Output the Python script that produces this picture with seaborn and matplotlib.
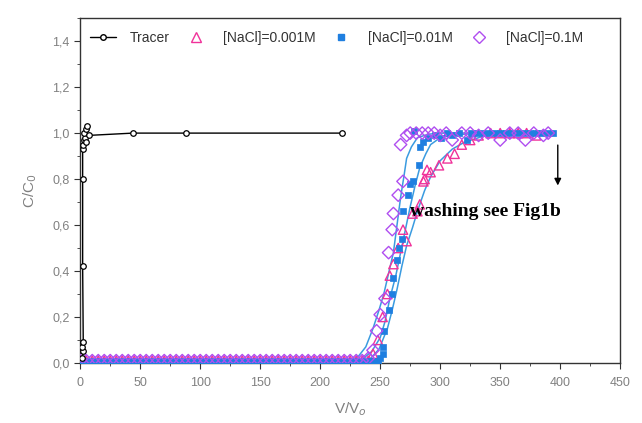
import seaborn as sns
import matplotlib.pyplot as plt
import pandas as pd
from matplotlib.lines import Line2D

# Tracer (black line with open circles)
tracer_v = [1.5, 2.5, 1.5, 2.5, 2.0, 2.0, 2.0, 2.5, 3.0, 4.0, 3.0, 5.0, 6.0, 5.0, 7.0, 44, 88, 218]
tracer_c = [0.02, 0.05, 0.07, 0.09, 0.42, 0.80, 0.93, 0.95, 0.97, 0.98, 1.00, 1.02, 1.03, 0.96, 0.99, 1.0, 1.0, 1.0]

# flat zero baseline sampled before breakthrough (shared by the three NaCl runs)
baseline_v = [0, 5, 10, 15, 20, 25, 30, 35, 40, 45, 50, 55, 60, 65, 70, 75, 80, 85, 90, 95,
              100, 105, 110, 115, 120, 125, 130, 135, 140, 145, 150, 155, 160, 165, 170, 175,
              180, 185, 190, 195, 200, 205, 210, 215, 220, 225, 230, 235]

# [NaCl]=0.001M  (pink open triangles)
low_v = [240, 244, 248, 252, 256, 258, 261, 265, 269, 272, 277, 281, 283, 286, 287, 289, 292,
         299, 306, 312, 318, 325, 332, 342, 350, 358, 365, 372, 380]
low_c = [0.01, 0.04, 0.10, 0.20, 0.30, 0.38, 0.43, 0.50, 0.58, 0.53, 0.65, 0.66, 0.69, 0.79,
         0.80, 0.84, 0.83, 0.86, 0.89, 0.91, 0.95, 0.97, 0.99, 1.0, 1.0, 1.0, 1.0, 1.0, 0.99]

# [NaCl]=0.01M  (blue filled squares)
mid_v = [240, 244, 248, 250, 252, 252, 253, 257, 260, 261, 264, 266, 268, 269, 273, 275, 277,
         282, 283, 286, 278, 290, 296, 301, 306, 310, 316, 322, 326, 330, 335, 340, 345, 350,
         355, 360, 365, 370, 375, 380, 385, 390, 394]
mid_c = [0.01, 0.01, 0.01, 0.02, 0.04, 0.07, 0.14, 0.23, 0.30, 0.37, 0.45, 0.50, 0.54, 0.66,
         0.73, 0.78, 0.79, 0.86, 0.94, 0.96, 1.01, 0.98, 0.99, 0.98, 1.0, 0.99, 1.0, 0.97, 1.0,
         1.0, 1.0, 1.0, 1.0, 1.0, 1.0, 1.0, 1.0, 1.0, 1.0, 1.0, 1.0, 1.0, 1.0]

# [NaCl]=0.1M  (purple open diamonds)
high_v = [240, 244, 247, 250, 254, 257, 260, 261, 265, 269, 267, 272, 275, 280, 285, 290, 295,
          300, 305, 310, 318, 325, 332, 340, 350, 358, 365, 371, 378, 386, 390]
high_c = [0.02, 0.055, 0.14, 0.21, 0.28, 0.48, 0.58, 0.65, 0.73, 0.79, 0.95, 0.99, 1.0, 1.0,
          1.0, 1.0, 1.0, 0.99, 1.0, 0.97, 1.0, 1.0, 0.99, 1.0, 0.97, 1.0, 1.0, 0.97, 1.0, 0.99, 1.0]

# fitted breakthrough curves
fitA_v = [200, 215, 225, 232, 238, 244, 249, 253, 257, 261, 264, 267, 270, 272, 276, 281, 290, 300, 330, 395]
fitA_c = [0, 0, 0.01, 0.03, 0.07, 0.15, 0.23, 0.30, 0.39, 0.48, 0.60, 0.72, 0.82, 0.89, 0.94, 0.98, 0.995, 1.0, 1.0, 1.0]
fitB_v = [200, 225, 236, 243, 250, 254, 258, 263, 267, 271, 275, 279, 283, 288, 292, 300, 310, 330, 395]
fitB_c = [0, 0, 0.02, 0.05, 0.11, 0.18, 0.28, 0.38, 0.48, 0.58, 0.68, 0.77, 0.85, 0.91, 0.95, 0.98, 0.99, 1.0, 1.0]
fitC_v = [200, 232, 242, 249, 256, 260, 264, 268, 272, 277, 281, 287, 292, 300, 310, 320, 335, 360, 395]
fitC_c = [0, 0, 0.02, 0.06, 0.15, 0.23, 0.32, 0.42, 0.51, 0.59, 0.66, 0.75, 0.81, 0.88, 0.93, 0.96, 0.985, 1.0, 1.0]

y_ticks = [0.0, 0.2, 0.4, 0.6, 0.8, 1.0, 1.2, 1.4]
y_ticklabels = ['0,0', '0,2', '0,4', '0,6', '0,8', '1,0', '1,2', '1,4']
x_ticks = [0, 50, 100, 150, 200, 250, 300, 350, 400, 450]

labels = ['Tracer', '[NaCl]=0.001M', '[NaCl]=0.01M', '[NaCl]=0.1M']
c_pink = '#f0329a'
c_blue = '#1f7fe0'
c_purple = '#b04ef0'
c_fit = '#3a9be0'

sns.set_style('ticks')
plt.rcParams['font.family'] = ['Liberation Sans', 'DejaVu Sans']

fig = plt.figure(figsize=(6.42, 4.23), dpi=100)
ax = fig.add_axes([0.125, 0.142, 0.841, 0.815])

zeros = [0.01] * len(baseline_v)
df_low = pd.DataFrame({'v': baseline_v + low_v, 'c': zeros + low_c})
df_mid = pd.DataFrame({'v': baseline_v + mid_v, 'c': zeros + mid_c})
df_high = pd.DataFrame({'v': baseline_v + high_v, 'c': zeros + high_c})

for fv, fc in [(fitA_v, fitA_c), (fitB_v, fitB_c), (fitC_v, fitC_c)]:
    sns.lineplot(x=fv, y=fc, ax=ax, color=c_fit, lw=1.1, sort=False, estimator=None, zorder=2)

sns.scatterplot(data=df_low, x='v', y='c', ax=ax, marker='^', s=45, facecolor='none',
                edgecolor=c_pink, linewidth=1.0, zorder=3)
sns.scatterplot(data=df_mid, x='v', y='c', ax=ax, marker='s', s=22, color=c_blue,
                edgecolor=c_blue, linewidth=0.5, zorder=3)
sns.scatterplot(data=df_high, x='v', y='c', ax=ax, marker='D', s=40, facecolor='none',
                edgecolor=c_purple, linewidth=1.0, zorder=4)

sns.lineplot(x=tracer_v, y=tracer_c, ax=ax, color='black', lw=1.0, sort=False, estimator=None,
             marker='o', markersize=4, markerfacecolor='white', markeredgecolor='black',
             markeredgewidth=0.9, zorder=5)

ax.annotate('', xy=(398, 0.76), xytext=(398, 0.96),
            arrowprops=dict(arrowstyle='-|>', color='black', lw=1.0, mutation_scale=10))
ax.text(275, 0.66, 'washing see Fig1b', family='Liberation Serif', fontweight='bold',
        fontsize=14, color='black', va='center', ha='left')

ax.set_xlim(0, 450)
ax.set_ylim(0, 1.5)
ax.set_xticks(x_ticks)
ax.set_xticks(range(25, 450, 50), minor=True)
ax.set_yticks(y_ticks)
ax.set_yticklabels(y_ticklabels)
ax.set_yticks([0.1, 0.3, 0.5, 0.7, 0.9, 1.1, 1.3, 1.5], minor=True)
ax.tick_params(which='both', direction='out', colors='#333333', labelcolor='#808080', labelsize=9)
ax.tick_params(axis='x', pad=6)
ax.tick_params(which='major', length=4)
ax.tick_params(which='minor', length=2.5)
for sp in ax.spines.values():
    sp.set_color('#333333')
    sp.set_linewidth(1.0)

ax.set_xlabel('V/V$_o$', color='#808080', fontsize=11, labelpad=8)
ax.set_ylabel('C/C$_0$', color='#808080', fontsize=11, labelpad=10)

handles = [
    Line2D([], [], color='black', lw=1.0, marker='o', markersize=4, markerfacecolor='white',
           markeredgecolor='black'),
    Line2D([], [], ls='none', marker='^', markersize=7, markerfacecolor='none', markeredgecolor=c_pink),
    Line2D([], [], ls='none', marker='s', markersize=5, color=c_blue),
    Line2D([], [], ls='none', marker='D', markersize=6, markerfacecolor='none', markeredgecolor=c_purple),
]
leg = ax.legend(handles, labels, loc='upper left', bbox_to_anchor=(0.0, 0.99), ncol=4,
                frameon=False, fontsize=10, handlelength=1.9, columnspacing=0.9,
                handletextpad=1.0, borderaxespad=0.3)
for t in leg.get_texts():
    t.set_color('#333333')

fig.savefig('out.png', dpi=100)
